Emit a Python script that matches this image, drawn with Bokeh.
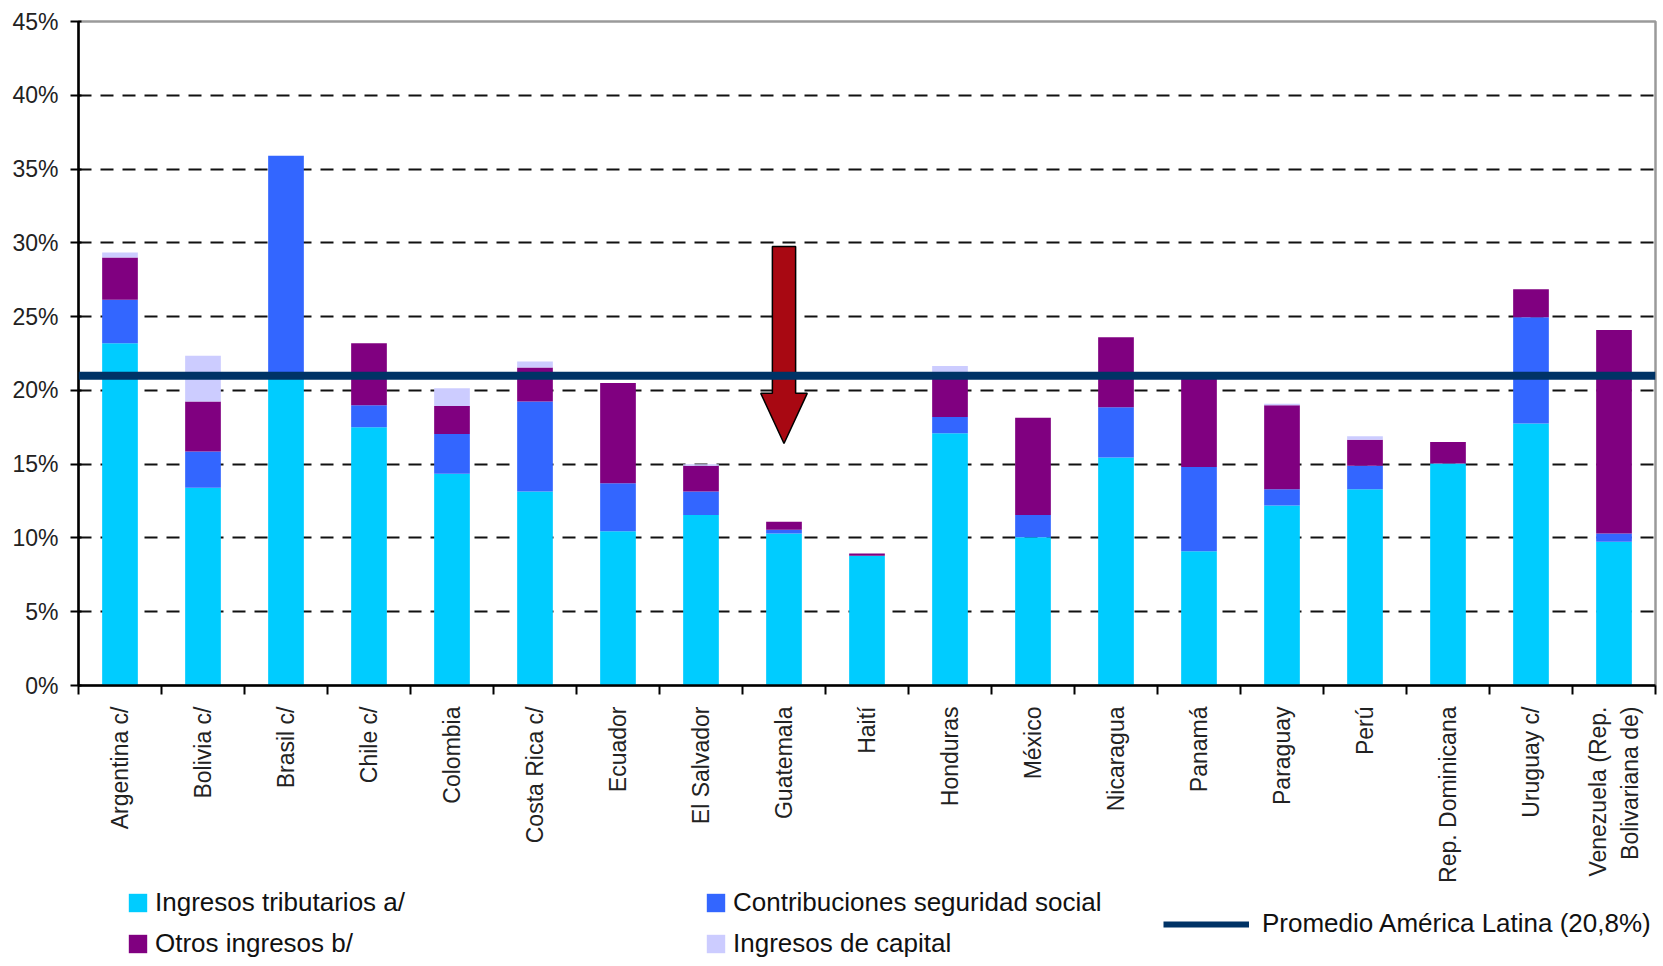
import math
from bokeh.plotting import figure
from bokeh.layouts import column
from bokeh.models import (Range1d, FixedTicker, PrintfTickFormatter, Span, Legend,
                          LegendItem, ColumnDataSource)
from bokeh.embed import file_html
from bokeh.resources import INLINE

# ---------------- data (percent of GDP) ----------------
countries = ["Argentina c/", "Bolivia c/", "Brasil c/", "Chile c/", "Colombia",
             "Costa Rica c/", "Ecuador", "El Salvador", "Guatemala", "Haití",
             "Honduras", "México", "Nicaragua", "Panamá", "Paraguay", "Perú",
             "Rep. Dominicana", "Uruguay c/", "Venezuela (Rep.\nBolivariana de)"]
tributarios = [23.2, 13.4, 21.0, 17.5, 14.35, 13.15, 10.45, 11.55, 10.3, 8.8,
               17.1, 10.05, 15.45, 9.1, 12.2, 13.3, 15.05, 17.75, 9.75]
seguridad = [2.95, 2.45, 14.9, 1.5, 2.7, 6.1, 3.25, 1.6, 0.25, 0.0,
             1.1, 1.5, 3.4, 5.7, 1.1, 1.6, 0.0, 7.2, 0.55]
otros = [2.85, 3.4, 0.0, 4.2, 1.9, 2.3, 6.8, 1.75, 0.55, 0.15,
         3.0, 6.6, 4.75, 6.1, 5.7, 1.75, 1.45, 1.9, 13.8]
capital = [0.35, 3.1, 0.0, 0.0, 1.2, 0.4, 0.0, 0.1, 0.0, 0.0,
           0.45, 0.0, 0.0, 0.0, 0.1, 0.25, 0.0, 0.0, 0.0]
promedio = 21.0           # drawn position of the regional average line
promedio_label = "Promedio América Latina (20,8%)"
series_names = ["Ingresos tributarios a/", "Contribuciones seguridad social",
                "Otros ingresos b/", "Ingresos de capital"]
series_colors = ["#00CCFF", "#3366FF", "#800080", "#CCCCFF"]
avg_color = "#003366"
y_ticks = [0, 5, 10, 15, 20, 25, 30, 35, 40, 45]
arrow_country = "Guatemala"
arrow_top, arrow_head_base, arrow_tip = 29.75, 19.8, 16.4

FONT = "Liberation Sans"

# ---------------- main figure ----------------
n = len(countries)
centers = [i + 0.5 for i in range(n)]
bounds = [float(i) for i in range(n + 1)]

p = figure(width=1660, height=886, output_backend="svg", toolbar_location=None,
           x_range=Range1d(0, n), y_range=Range1d(0, 45))
p.min_border_left = 78
p.min_border_right = 5
p.min_border_top = 21
p.min_border_bottom = 201
p.background_fill_color = "white"
p.border_fill_color = "white"
p.outline_line_color = "#9a9a9a"
p.outline_line_width = 2.5

src = ColumnDataSource(dict(x=centers, trib=tributarios, ss=seguridad,
                            otros=otros, cap=capital))
rs = p.vbar_stack(["trib", "ss", "otros", "cap"], x="x", width=0.43, source=src,
                  color=series_colors, line_color=None)

# average line
p.add_layout(Span(location=promedio, dimension="width", line_color=avg_color,
                  line_width=8))

# red arrow over Guatemala
ax = countries.index(arrow_country) + 0.5
sw, hw = 0.14, 0.28
p.patch(x=[ax - sw, ax + sw, ax + sw, ax + hw, ax, ax - hw, ax - sw],
        y=[arrow_top, arrow_top, arrow_head_base, arrow_head_base, arrow_tip,
           arrow_head_base, arrow_head_base],
        fill_color="#A80812", line_color="black", line_width=1.5)

# ---------------- axes ----------------
yax = p.yaxis[0]
yax.ticker = FixedTicker(ticks=y_ticks)
yax.formatter = PrintfTickFormatter(format="%d%%")
yax.axis_line_color = "black"
yax.axis_line_width = 2.5
yax.major_tick_line_color = "black"
yax.major_tick_line_width = 2
yax.major_tick_out = 8
yax.major_tick_in = 3
yax.minor_tick_line_color = None
yax.major_label_standoff = 12
yax.major_label_text_font = FONT
yax.major_label_text_font_size = "23px"
yax.major_label_text_color = "#222222"

xax = p.xaxis[0]
xax.ticker = FixedTicker(ticks=centers, minor_ticks=bounds)
xax.major_label_overrides = {c: name for c, name in zip(centers, countries)}
xax.major_label_orientation = math.pi / 2
xax.axis_line_color = "black"
xax.axis_line_width = 2.5
xax.major_tick_line_color = None
xax.major_tick_out = 0
xax.major_tick_in = 0
xax.minor_tick_line_color = "black"
xax.minor_tick_line_width = 2
xax.minor_tick_out = 9
xax.minor_tick_in = 0
xax.major_label_standoff = 12
xax.major_label_text_font = FONT
xax.major_label_text_font_size = "23px"
xax.major_label_text_color = "#222222"

p.xgrid.grid_line_color = None
p.ygrid.ticker = FixedTicker(ticks=y_ticks)
p.ygrid.grid_line_color = "#111111"
p.ygrid.grid_line_width = 2
p.ygrid.grid_line_dash = "13 9"

# ---------------- legend strip ----------------
LH = 74
q = figure(width=1660, height=LH, output_backend="svg", toolbar_location=None,
           x_range=Range1d(0, 1), y_range=Range1d(0, 1),
           x_axis_location=None, y_axis_location=None)
q.min_border = 0
q.outline_line_color = None
q.xgrid.visible = False
q.ygrid.visible = False

# off-screen stand-in renderers that only provide the legend glyph styles
dummies = [q.vbar(x=[-5], top=[-5], bottom=[-6], width=0.1, fill_color=c,
                  line_color=None) for c in series_colors]
avg_dummy = q.line(x=[-6, -5], y=[-5, -5], line_color=avg_color, line_width=6)


def make_legend(items, loc, glyph_w, glyph_h, standoff):
    return Legend(items=items, location=loc, orientation="vertical",
                  border_line_color=None, background_fill_alpha=0,
                  padding=0, margin=0, spacing=10,
                  glyph_width=glyph_w, glyph_height=glyph_h, label_height=30,
                  label_standoff=standoff,
                  label_text_font=FONT, label_text_font_size="26px",
                  label_text_color="#111111")


# x offsets are measured from the (column-aligned) frame left edge
leg1 = make_legend([LegendItem(label=series_names[0], renderers=[dummies[0]]),
                    LegendItem(label=series_names[2], renderers=[dummies[2]])],
                   (48, 1), 23, 23, 6)
leg2 = make_legend([LegendItem(label=series_names[1], renderers=[dummies[1]]),
                    LegendItem(label=series_names[3], renderers=[dummies[3]])],
                   (626, 1), 23, 23, 6)
leg3 = make_legend([LegendItem(label=promedio_label, renderers=[avg_dummy])],
                   (1085, 21), 86, 18, 13)
for lg in (leg1, leg2, leg3):
    q.add_layout(lg, "center")

layout = column(p, q, spacing=0)
open("out.html", "w").write(file_html(layout, INLINE))
